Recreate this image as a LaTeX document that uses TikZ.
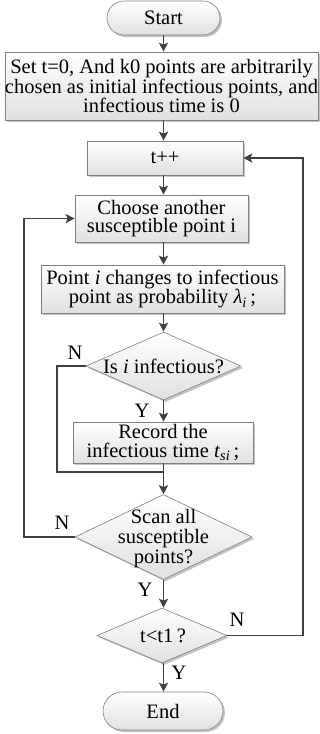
\documentclass[tikz,border=0pt]{standalone}
\usepackage{fontspec}
\setmainfont{Liberation Serif}
\usetikzlibrary{shapes.geometric,shapes.misc,shadows,arrows.meta}
\definecolor{linec}{HTML}{404040}
\definecolor{bordc}{HTML}{808080}
\definecolor{fillb}{HTML}{E0E0E0}
\definecolor{shadc}{HTML}{C4C4C4}
\newcommand\flowfont{\fontsize{20.5}{18.5}\selectfont}
\newcommand\flowfontb{\fontsize{20.5}{20}\selectfont}
\tikzset{
  basebox/.style={draw=bordc, line width=0.6pt, top color=white, bottom color=fillb,
    drop shadow={shadow xshift=2pt, shadow yshift=-2pt, fill=shadc, opacity=1},
    inner sep=0pt, align=center, font=\flowfont},
  procbox/.style={basebox, rectangle},
  termbox/.style={basebox, rounded rectangle},
  decbox/.style={basebox, diamond},
  conn/.style={draw=linec, line width=1.5pt, -{Stealth[length=9pt,width=9pt,inset=2pt]}},
  plainline/.style={draw=linec, line width=1.5pt},
  lbl/.style={font=\flowfont, inner sep=0pt, align=center},
}
\begin{document}
\begin{tikzpicture}[x=1pt,y=-1pt]
\useasboundingbox (0,0) rectangle (320,734);
\node[termbox, minimum width=113pt, minimum height=34pt] (start) at (163.5,18) {Start};
\node[procbox, minimum width=312pt, minimum height=68pt] (init) at (161.5,86)
  {Set t=0, And k0 points are arbitrarily\\chosen as initial infectious points, and\\infectious time is 0};
\node[procbox, minimum width=156pt, minimum height=34pt] (tpp) at (165,158) {t++};
\node[procbox, minimum width=173pt, minimum height=47pt] (choose) at (161.5,218.5)
  {Choose another\\susceptible point i};
\node[procbox, minimum width=243pt, minimum height=48pt] (point) at (162.5,289)
  {Point \textit{i} changes to infectious\\point as probability \textit{λ}\textsubscript{\textit{i}}\,;};
\node[decbox, minimum width=155pt, minimum height=68pt] (isinf) at (163.5,366) {};
\node[lbl] (isinft) at (163.5,366) {Is \textit{i} infectious?};
\node[procbox, minimum width=180pt, minimum height=41pt] (record) at (163,442.5)
  {Record the\\infectious time \textit{t}\textsubscript{\textit{si}}\,;};
\node[decbox, minimum width=177pt, minimum height=85pt] (scan) at (163.5,537) {};
\node[lbl, font=\flowfontb] (scant) at (163.5,539) {Scan all\\susceptible\\points?};
\node[decbox, minimum width=130pt, minimum height=55pt] (tlt) at (162,635.5) {};
\node[lbl] (tltt) at (163,635.5) {t<t1\,?};
\node[termbox, minimum width=120pt, minimum height=38pt] (end) at (163,711) {End};

\coordinate (j) at (163.5,472);
\coordinate (nl) at (57,472);
\coordinate (ll) at (24,537);
\coordinate (rl) at (303,635.5);

\draw[conn] (start.south) -- (start.south |- init.north);
\draw[conn] (start.south |- init.south) -- (start.south |- tpp.north);
\draw[conn] (start.south |- tpp.south) -- (start.south |- choose.north);
\draw[conn] (start.south |- choose.south) -- (start.south |- point.north);
\draw[conn] (start.south |- point.south) -- (isinf.north);
\draw[conn] (isinf.south) -- (isinf.south |- record.north);
\draw[plainline] (isinf.south |- record.south) -- (j);
\draw[plainline] (isinf.west) -| (nl) -- (j);
\draw[conn] (j) -- (scan.north);
\draw[conn] (scan.west) -- (ll) |- (choose.west);
\draw[conn] (scan.south) -- (scan.south |- tlt.north);
\draw[conn] (tlt.east) -- (rl) |- (tpp.east);
\draw[conn] (scan.south |- tlt.south) -- (scan.south |- end.north);

\node[lbl] (n1) at (75,353) {N};
\node[lbl] (y1) at (142,411) {Y};
\node[lbl] (n2) at (62,523) {N};
\node[lbl] (y2) at (145,590) {Y};
\node[lbl] (n3) at (237,620) {N};
\node[lbl] (y3) at (179,673) {Y};
\end{tikzpicture}
\end{document}
